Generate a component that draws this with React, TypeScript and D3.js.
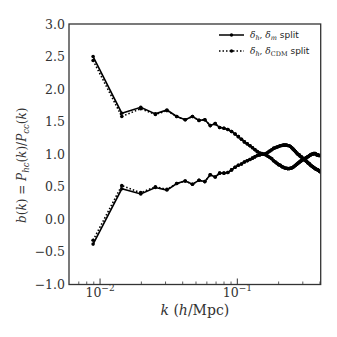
import * as d3 from 'd3';

// k bins (h/Mpc)
const kValues = [
  0.0089, 0.0144, 0.0198, 0.0253, 0.0307, 0.0362, 0.0417, 0.0471, 0.0526, 0.058,
  0.0635, 0.069, 0.0744, 0.0799, 0.0853, 0.0908, 0.0963, 0.1017, 0.1072, 0.1126,
  0.1181, 0.1236, 0.129, 0.1345, 0.1399, 0.1454, 0.1509, 0.1563, 0.1618, 0.1672,
  0.1727, 0.1782, 0.1836, 0.1891, 0.1945, 0.2, 0.2055, 0.2109, 0.2164, 0.2218,
  0.2273, 0.2328, 0.2382, 0.2437, 0.2491, 0.2546, 0.2601, 0.2655, 0.271, 0.2764,
  0.2819, 0.2874, 0.2928, 0.2983, 0.3037, 0.3092, 0.3147, 0.3201, 0.3256, 0.331,
  0.3365, 0.342, 0.3474, 0.3529, 0.3583, 0.3638, 0.3693, 0.3747, 0.3802, 0.3856,
  0.3911, 0.3966, 0.402,
];

// delta_h, delta_m split (solid) - upper and lower branch
const mUpper = [
  2.5, 1.63, 1.72, 1.62, 1.68, 1.58, 1.53, 1.58, 1.52, 1.53,
  1.44, 1.47, 1.41, 1.4, 1.38, 1.35, 1.31, 1.27, 1.23, 1.19,
  1.16, 1.13, 1.1, 1.07, 1.04, 1.02, 1.01, 1.0, 0.99, 0.97,
  0.95, 0.93, 0.9, 0.88, 0.86, 0.84, 0.83, 0.81, 0.8, 0.79,
  0.785, 0.78, 0.78, 0.785, 0.79, 0.8, 0.815, 0.83, 0.845, 0.86,
  0.875, 0.89, 0.9, 0.91, 0.92, 0.93, 0.94, 0.95, 0.96, 0.97,
  0.98, 0.99, 1.0, 1.0, 1.01, 1.01, 1.01, 1.0, 0.99, 0.99,
  0.98, 0.98, 0.98,
];
const mLower = [
  -0.38, 0.47, 0.39, 0.49, 0.45, 0.55, 0.59, 0.54, 0.6, 0.58,
  0.685, 0.65, 0.71, 0.71, 0.72, 0.76, 0.8, 0.83, 0.85, 0.88,
  0.9, 0.92, 0.94, 0.96, 0.98, 0.99, 1.0, 1.0, 1.01, 1.03,
  1.05, 1.07, 1.09, 1.1, 1.11, 1.12, 1.13, 1.135, 1.14, 1.14,
  1.14, 1.135, 1.13, 1.12, 1.1, 1.08, 1.06, 1.04, 1.02, 1.0,
  0.99, 0.97, 0.96, 0.94, 0.93, 0.92, 0.9, 0.89, 0.87, 0.86,
  0.85, 0.83, 0.82, 0.81, 0.8, 0.79, 0.78, 0.77, 0.765, 0.76,
  0.75, 0.74, 0.73,
];

// delta_h, delta_CDM split (dotted) - upper and lower branch
const cUpper = [
  2.44, 1.58, 1.7, 1.61, 1.67, 1.58, 1.53, 1.58, 1.52, 1.53,
  1.44, 1.47, 1.41, 1.4, 1.38, 1.35, 1.31, 1.27, 1.23, 1.19,
  1.16, 1.13, 1.1, 1.07, 1.04, 1.02, 1.01, 1.0, 0.99, 0.97,
  0.95, 0.93, 0.9, 0.88, 0.86, 0.84, 0.83, 0.81, 0.8, 0.79,
  0.785, 0.78, 0.78, 0.785, 0.79, 0.8, 0.815, 0.83, 0.845, 0.86,
  0.875, 0.89, 0.9, 0.91, 0.92, 0.93, 0.94, 0.95, 0.96, 0.97,
  0.98, 0.99, 1.0, 1.0, 1.01, 1.01, 1.01, 1.0, 0.99, 0.99,
  0.98, 0.98, 0.98,
];
const cLower = [
  -0.32, 0.52, 0.41, 0.5, 0.46, 0.55, 0.59, 0.54, 0.6, 0.58,
  0.685, 0.65, 0.71, 0.71, 0.72, 0.76, 0.8, 0.83, 0.85, 0.88,
  0.9, 0.92, 0.94, 0.96, 0.98, 0.99, 1.0, 1.0, 1.01, 1.03,
  1.05, 1.07, 1.09, 1.1, 1.11, 1.12, 1.13, 1.135, 1.14, 1.14,
  1.14, 1.135, 1.13, 1.12, 1.1, 1.08, 1.06, 1.04, 1.02, 1.0,
  0.99, 0.97, 0.96, 0.94, 0.93, 0.92, 0.9, 0.89, 0.87, 0.86,
  0.85, 0.83, 0.82, 0.81, 0.8, 0.79, 0.78, 0.77, 0.765, 0.76,
  0.75, 0.74, 0.73,
];

const yTicks = [3.0, 2.5, 2.0, 1.5, 1.0, 0.5, 0.0, -0.5, -1.0];
const xMajor = [0.01, 0.1];
const xMajorExp = ['−2', '−1'];
const xMinor = [0.007, 0.008, 0.009, 0.02, 0.03, 0.04, 0.05, 0.06, 0.07, 0.08, 0.09, 0.2, 0.3, 0.4];

const W = 337;
const H = 337;
const L = 69, R = 320.7, T = 24, B = 284.5;
const serif = { fontFamily: "'DejaVu Serif', serif" };
const sans = { fontFamily: "'DejaVu Sans', sans-serif" };

const x = d3.scaleLog().domain([0.00594, 0.405]).range([L, R]);
const y = d3.scaleLinear().domain([-1, 3]).range([B, T]);

function Series({ values, dashed }: { values: number[]; dashed: boolean }) {
  const line = d3.line<number>()
    .x((_, i) => x(kValues[i]))
    .y((d) => y(d));
  return (
    <g>
      <path d={line(values) || ''} fill="none" stroke="#000" strokeWidth={1.6}
        strokeDasharray={dashed ? '1.5,2' : undefined} />
      {values.map((v, i) => (
        <circle key={i} cx={x(kValues[i])} cy={y(v)} r={1.8} fill="#000" />
      ))}
    </g>
  );
}

export default function App() {
  const fmt = (v: number) => (v < 0 ? '−' : '') + Math.abs(v).toFixed(1);
  return (
    <svg width={W} height={H} style={{ position: 'absolute', left: 0, top: 0, background: '#fff' }}>
      <defs>
        <clipPath id="plot">
          <rect x={L} y={T} width={R - L} height={B - T} />
        </clipPath>
      </defs>

      <g clipPath="url(#plot)">
        <Series values={cUpper} dashed={true} />
        <Series values={cLower} dashed={true} />
        <Series values={mUpper} dashed={false} />
        <Series values={mLower} dashed={false} />
      </g>

      {/* frame */}
      <rect x={L} y={T} width={R - L} height={B - T} fill="none" stroke="#333" strokeWidth={1.3} />

      {/* x ticks (inward) */}
      {xMajor.map((k) => (
        <line key={'M' + k} x1={x(k)} x2={x(k)} y1={B} y2={B - 6} stroke="#333" strokeWidth={1} />
      ))}
      {xMinor.map((k) => (
        <line key={'m' + k} x1={x(k)} x2={x(k)} y1={B} y2={B - 3} stroke="#333" strokeWidth={0.8} />
      ))}
      {xMajor.map((k, i) => (
        <text key={'xl' + k} x={x(k)} y={297} textAnchor="middle" style={serif} fontSize={12.5} fill="#333">
          10<tspan dy={-6} fontSize={9}>{xMajorExp[i]}</tspan>
        </text>
      ))}

      {/* y tick labels */}
      {yTicks.map((v) => (
        <text key={'yl' + v} x={65} y={y(v)} dy="0.36em" textAnchor="end" style={serif} fontSize={12.5} fill="#333">
          {fmt(v)}
        </text>
      ))}

      {/* axis labels */}
      <text x={(L + R) / 2} y={315} textAnchor="middle" style={serif} fontSize={14} fill="#333">
        <tspan fontStyle="italic">k</tspan> (<tspan fontStyle="italic">h</tspan>/Mpc)
      </text>
      <text transform={`translate(26,${(T + B) / 2 + 11}) rotate(-90)`} textAnchor="middle" style={serif} fontSize={12} fill="#333">
        <tspan fontStyle="italic">b</tspan>(<tspan fontStyle="italic">k</tspan>) = <tspan fontStyle="italic">P</tspan>
        <tspan fontStyle="italic" fontSize={8.5} dy={3}>hc</tspan>
        <tspan dy={-3}>(</tspan><tspan fontStyle="italic">k</tspan>)/<tspan fontStyle="italic">P</tspan>
        <tspan fontStyle="italic" fontSize={8.5} dy={3}>cc</tspan>
        <tspan dy={-3}>(</tspan><tspan fontStyle="italic">k</tspan>)
      </text>

      {/* legend */}
      <g>
        <line x1={219} x2={244} y1={35} y2={35} stroke="#000" strokeWidth={1.5} />
        <circle cx={231.5} cy={35} r={1.7} fill="#000" />
        <text x={250} y={38} fontSize={9} fill="#222">
          <tspan style={serif} fontStyle="italic">δ</tspan>
          <tspan style={serif} fontStyle="italic" fontSize={6.5} dy={2}>h</tspan>
          <tspan style={serif} dy={-2}>, </tspan>
          <tspan style={serif} fontStyle="italic">δ</tspan>
          <tspan style={serif} fontStyle="italic" fontSize={6.5} dy={2}>m</tspan>
          <tspan style={sans} dy={-2}> split</tspan>
        </text>
        <line x1={219} x2={244} y1={51} y2={51} stroke="#000" strokeWidth={1.5} strokeDasharray="1.5,2" />
        <circle cx={231.5} cy={51} r={1.7} fill="#000" />
        <text x={250} y={54} fontSize={9} fill="#222">
          <tspan style={serif} fontStyle="italic">δ</tspan>
          <tspan style={serif} fontStyle="italic" fontSize={6.5} dy={2}>h</tspan>
          <tspan style={serif} dy={-2}>, </tspan>
          <tspan style={serif} fontStyle="italic">δ</tspan>
          <tspan style={serif} fontSize={6.5} dy={2}>CDM</tspan>
          <tspan style={sans} dy={-2}> split</tspan>
        </text>
      </g>
    </svg>
  );
}
